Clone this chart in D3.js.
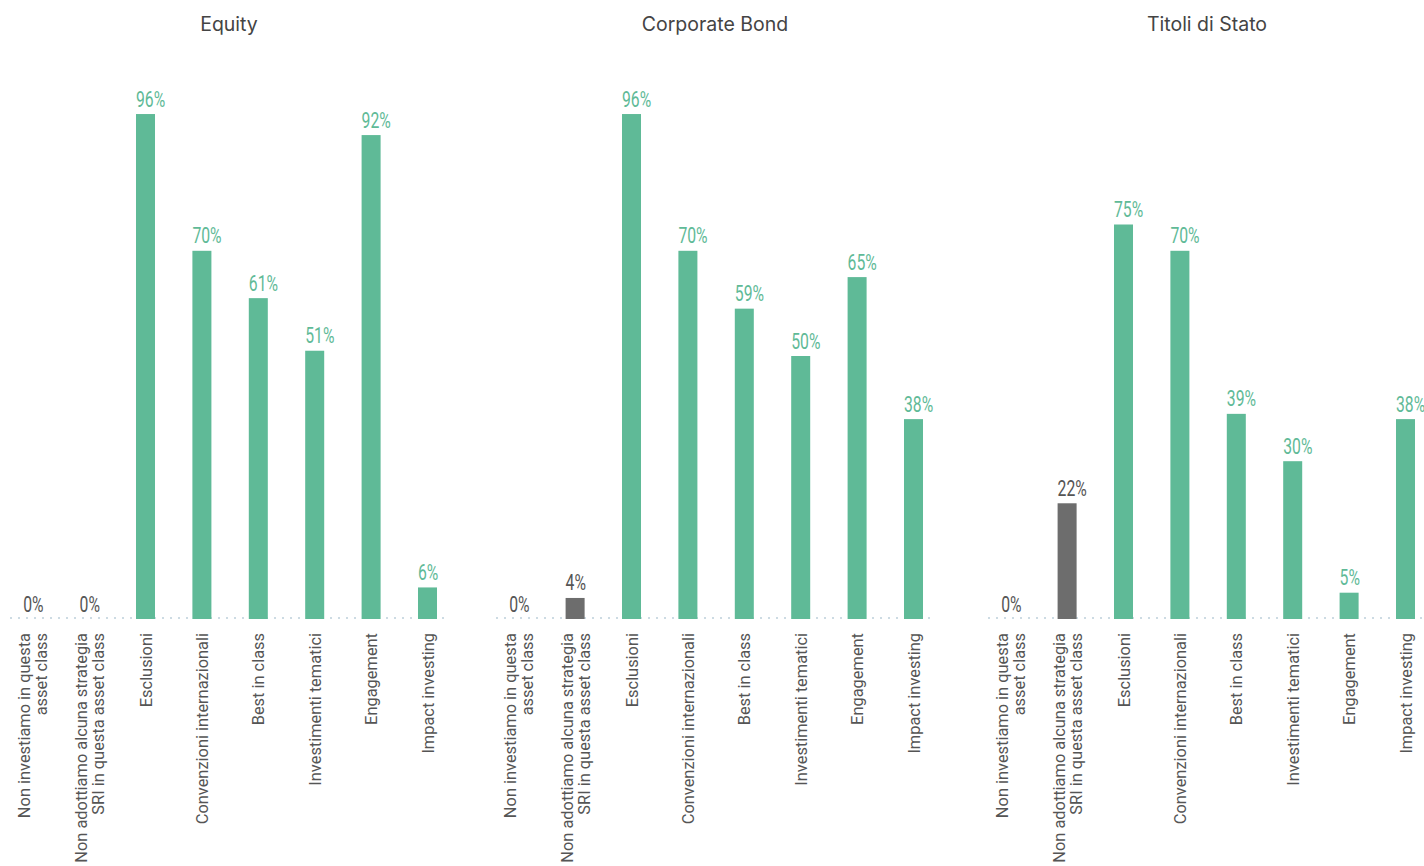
<!DOCTYPE html>
<html>
<head>
<meta charset="utf-8">
<script src="https://cdn.jsdelivr.net/npm/d3@7"></script>
<style>
  html, body { margin: 0; padding: 0; background: #fff; }
  svg { display: block; }
</style>
</head>
<body>
<svg id="chart" width="1424" height="866"></svg>
<script>
// Strategie SRI adottate per asset class (% di rispondenti)
const panels = ["Equity", "Corporate Bond", "Titoli di Stato"];
const categories = [
  "Non investiamo in questa\nasset class",
  "Non adottiamo alcuna strategia\nSRI in questa asset class",
  "Esclusioni",
  "Convenzioni internazionali",
  "Best in class",
  "Investimenti tematici",
  "Engagement",
  "Impact investing"
];
const equityValues   = [0, 0, 96, 70, 61, 51, 92, 6];
const corporateValues = [0, 4, 96, 70, 59, 50, 65, 38];
const governmentValues = [0, 22, 75, 70, 39, 30, 5, 38];
const seriesValues = [equityValues, corporateValues, governmentValues];
// the first two answers are "no strategy" answers, drawn in grey
const noStrategy = [true, true, false, false, false, false, false, false];

const GREEN = "#5fba97";
const GREY_BAR = "#6d6d6d";
const GREY_TEXT = "#555555";

const svg = d3.select("#chart");
const baseY = 619;
const y = d3.scaleLinear().domain([0, 100]).range([baseY, baseY - 526]);
const panelOffsets = [0, 486, 978];

panels.forEach((title, p) => {
  const off = panelOffsets[p];
  const x = d3.scaleBand()
    .domain(categories)
    .range([off + 4.5, off + 455.7])
    .paddingInner(0.663)
    .paddingOuter(0.3315);
  const g = svg.append("g");

  // panel title
  g.append("text")
    .attr("x", off + 229)
    .attr("y", 31)
    .attr("text-anchor", "middle")
    .attr("font-family", "Inter, 'Open Sans', sans-serif")
    .attr("font-size", 19.5)
    .attr("fill", "#444")
    .text(title);

  // dotted baseline
  g.append("line")
    .attr("x1", off + 10).attr("x2", off + 449)
    .attr("y1", baseY - 1).attr("y2", baseY - 1)
    .attr("stroke", "#cddbe3")
    .attr("stroke-width", 2)
    .attr("stroke-dasharray", "2,6");

  const values = seriesValues[p];
  const data = categories.map((c, i) => ({ c, v: values[i], grey: noStrategy[i] }));

  // bars
  g.selectAll("rect.bar").data(data).join("rect")
    .attr("class", "bar")
    .attr("x", d => x(d.c))
    .attr("width", x.bandwidth())
    .attr("y", d => y(d.v))
    .attr("height", d => baseY - y(d.v))
    .attr("fill", d => d.grey ? GREY_BAR : GREEN);

  // value labels in a narrow face
  g.selectAll("g.val").data(data).join("g")
    .attr("class", "val")
    .attr("transform", d => `translate(${x(d.c)},${y(d.v) - 7.5}) scale(0.7,1)`)
    .append("text")
    .attr("font-family", "Roboto, 'Liberation Sans', sans-serif")
    .attr("font-size", 22.5)
    .attr("fill", d => d.grey ? GREY_TEXT : GREEN)
    .text(d => d.v + "%");

  // category axis with rotated labels
  const axis = d3.axisBottom(x).tickSize(0).tickPadding(0);
  const ax = g.append("g")
    .attr("transform", `translate(0,${baseY + 14})`)
    .call(axis);
  ax.select(".domain").remove();
  ax.selectAll(".tick text").each(function(d) {
    const t = d3.select(this);
    const lines = d.split("\n");
    t.text(null)
      .attr("transform", "rotate(-90)")
      .attr("text-anchor", "end")
      .attr("x", 0).attr("y", 0).attr("dy", null)
      .attr("font-family", "Roboto, 'Open Sans', sans-serif")
      .attr("font-size", 16.4)
      .attr("fill", GREY_TEXT);
    lines.forEach((ln, i) => {
      const shift = (i - (lines.length - 1) / 2) * 17 + 6;
      t.append("tspan").attr("x", 0).attr("y", shift).text(ln);
    });
  });
});
</script>
</body>
</html>
